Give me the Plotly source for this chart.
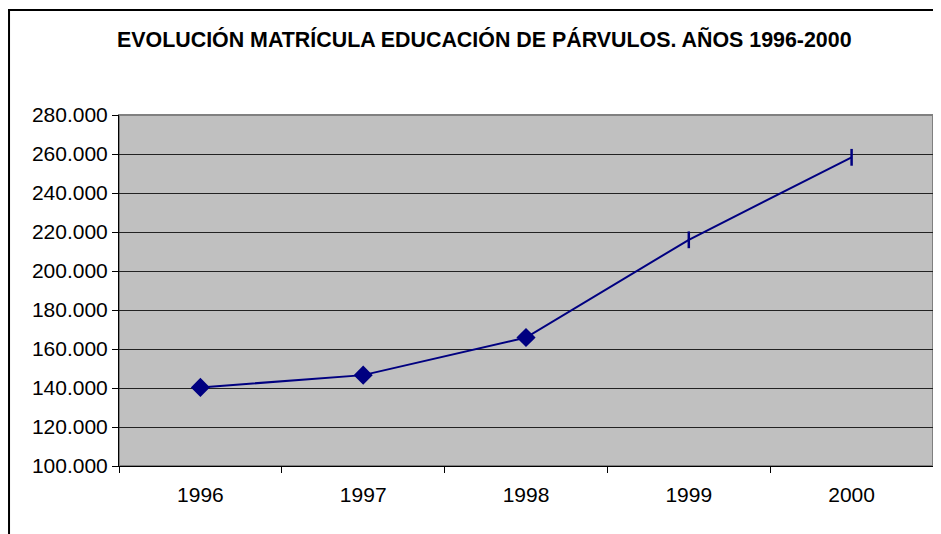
import plotly.graph_objects as go

# Data
years = ["1996", "1997", "1998", "1999", "2000"]
matricula = [140300, 146600, 165900, 216000, 258300]
symbols = ["diamond", "diamond", "diamond", "line-ns", "line-ns"]

title = "EVOLUCIÓN MATRÍCULA EDUCACIÓN DE PÁRVULOS. AÑOS 1996-2000"

font = "Arial, 'Liberation Sans', sans-serif"

fig = go.Figure(go.Scatter(
    x=years,
    y=matricula,
    mode="lines+markers",
    line=dict(color="#000080", width=2),
    marker=dict(symbol=symbols, size=12, color="#000080",
                line=dict(color="#000080", width=2.5)),
))

# page body has an 8px margin, so the figure is sized to fit the window
fig.update_layout(
    width=933, height=526,
    margin=dict(l=111, r=8, t=107, b=68),
    paper_bgcolor="white",
    plot_bgcolor="#C0C0C0",
    separators=",.",
    showlegend=False,
    font=dict(family=font, size=21, color="black"),
    shapes=[
        # plot area border
        dict(type="rect", xref="paper", yref="paper", x0=0, x1=1, y0=0, y1=1,
             line=dict(color="#808080", width=2), layer="below"),
        # outer chart border
        dict(type="rect", xref="paper", yref="paper", x0=-0.1351, x1=1.03,
             y0=-0.3, y1=1.2991, line=dict(color="black", width=2)),
    ],
    annotations=[dict(
        text="<b>" + title + "</b>", xref="paper", yref="paper",
        x=0.449, y=1.215, xanchor="center", yanchor="middle",
        showarrow=False, font=dict(family=font, size=21.4, color="black"),
    )],
)

fig.update_xaxes(
    type="category", range=[-0.5, 4.5],
    showgrid=False, showline=True, linecolor="black", linewidth=1,
    ticks="outside", tickson="boundaries", ticklen=6, tickcolor="black",
    tickfont=dict(size=21), ticklabelstandoff=10,
)
fig.update_yaxes(
    range=[100000, 280000], dtick=20000, tickformat=",d",
    showgrid=True, gridcolor="#222222", gridwidth=1,
    showline=True, linecolor="black", linewidth=1,
    ticks="outside", ticklen=6, tickcolor="black",
    tickfont=dict(size=21), zeroline=False,
)

fig.write_html("out.html")
